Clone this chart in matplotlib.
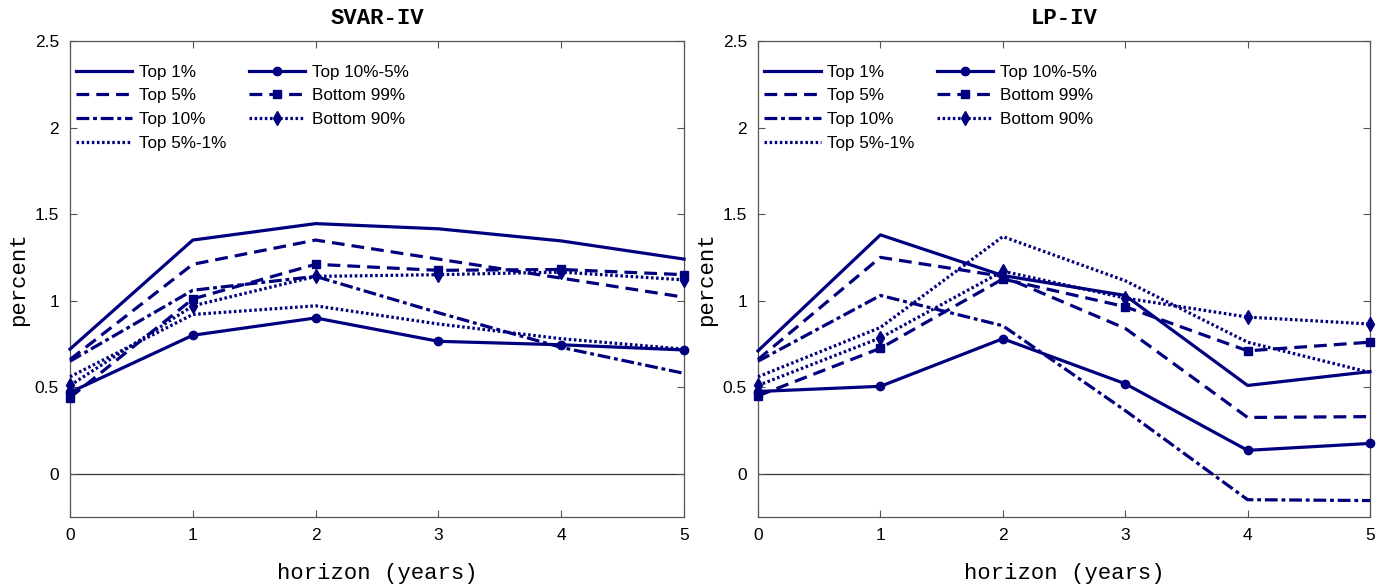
import numpy as np
import matplotlib
matplotlib.use("Agg")
import matplotlib.pyplot as plt
from matplotlib.ticker import FuncFormatter

horizon = [0, 1, 2, 3, 4, 5]
labels = ['Top 1%', 'Top 5%', 'Top 10%', 'Top 5%-1%',
          'Top 10%-5%', 'Bottom 99%', 'Bottom 90%']

# SVAR-IV responses (percent)
svar_top1 = [0.72, 1.35, 1.445, 1.415, 1.345, 1.24]
svar_top5 = [0.66, 1.21, 1.35, 1.24, 1.13, 1.02]
svar_top10 = [0.65, 1.06, 1.14, 0.93, 0.73, 0.58]
svar_top5_1 = [0.56, 0.92, 0.97, 0.865, 0.78, 0.72]
svar_top10_5 = [0.47, 0.80, 0.90, 0.765, 0.745, 0.715]
svar_bot99 = [0.44, 1.01, 1.21, 1.175, 1.18, 1.15]
svar_bot90 = [0.51, 0.97, 1.14, 1.15, 1.165, 1.12]

# LP-IV responses (percent)
lp_top1 = [0.71, 1.38, 1.145, 1.03, 0.51, 0.59]
lp_top5 = [0.66, 1.25, 1.14, 0.84, 0.325, 0.33]
lp_top10 = [0.65, 1.03, 0.855, 0.365, -0.15, -0.155]
lp_top5_1 = [0.56, 0.845, 1.37, 1.115, 0.76, 0.585]
lp_top10_5 = [0.475, 0.505, 0.78, 0.52, 0.135, 0.175]
lp_bot99 = [0.45, 0.725, 1.125, 0.965, 0.71, 0.76]
lp_bot90 = [0.51, 0.785, 1.17, 1.015, 0.905, 0.865]

svar = [svar_top1, svar_top5, svar_top10, svar_top5_1,
        svar_top10_5, svar_bot99, svar_bot90]
lp = [lp_top1, lp_top5, lp_top10, lp_top5_1,
      lp_top10_5, lp_bot99, lp_bot90]

navy = '#00007f'
styles = [dict(ls='-'), dict(ls=(0, (4, 2.2))), dict(ls=(0, (4, 1.2, 1.2, 1.2))),
          dict(ls=(0, (0.8, 0.8))),
          dict(ls='-', marker='o', ms=6), dict(ls=(0, (4, 2.2)), marker='s', ms=6),
          dict(ls=(0, (0.8, 0.8)), marker='d', ms=7)]

fig = plt.figure(figsize=(13.88, 5.85), dpi=100)
ax1 = fig.add_axes([70/1388, 68/585, 614/1388, 476/585])
ax2 = fig.add_axes([758/1388, 68/585, 612/1388, 476/585])


def fmt(v, pos):
    return ('%g' % v)


for ax, data, title in [(ax1, svar, 'SVAR-IV'), (ax2, lp, 'LP-IV')]:
    ax.axhline(0, color='#333333', lw=0.9, zorder=1)
    for vals, lab, st in zip(data, labels, styles):
        ax.plot(horizon, vals, color=navy, lw=2.3, label=lab, clip_on=False,
                zorder=3, **st)
    ax.set_xlim(0, 5)
    ax.set_ylim(-0.25, 2.5)
    ax.set_xticks(horizon)
    ax.set_yticks([0, 0.5, 1, 1.5, 2, 2.5])
    ax.yaxis.set_major_formatter(FuncFormatter(fmt))
    ax.tick_params(direction='in', top=True, right=True, length=5,
                   color='#555555', labelsize=12.5, pad=8)
    for lab in ax.get_xticklabels() + ax.get_yticklabels():
        lab.set_family('Liberation Sans')
    for sp in ax.spines.values():
        sp.set_color('#555555')
        sp.set_linewidth(0.9)
    ax.set_title(title, family='Liberation Mono', fontweight='bold',
                 fontsize=16, pad=12)
    ax.set_xlabel('horizon (years)', family='Liberation Mono', fontsize=16,
                  labelpad=14)
    ax.set_ylabel('percent', family='Liberation Mono', fontsize=16,
                  labelpad=4)
    leg = ax.legend(loc='upper left', ncol=2, frameon=False,
                    prop={'family': 'Liberation Sans', 'size': 12.3},
                    handlelength=3.3, handletextpad=0.4, columnspacing=1.3,
                    labelspacing=0.5, borderaxespad=1.0,
                    bbox_to_anchor=(-0.029, 1.0))

fig.savefig('out.png', dpi=100)
